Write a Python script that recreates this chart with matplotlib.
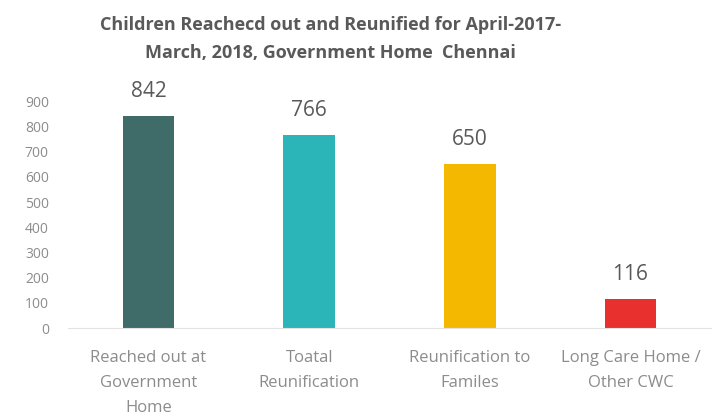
import matplotlib
matplotlib.use("Agg")
import matplotlib.pyplot as plt

# data
categories = ["Reached out at\nGovernment\nHome", "Toatal\nReunification",
              "Reunification to\nFamiles", "Long Care Home /\nOther CWC"]
values = [842, 766, 650, 116]
bar_colors = ["#3f6b68", "#2bb5b8", "#f5b800", "#e8302e"]
y_ticks = [0, 100, 200, 300, 400, 500, 600, 700, 800, 900]

plt.rcParams["font.family"] = ["Open Sans", "DejaVu Sans"]

fig = plt.figure(figsize=(7.18, 4.18), dpi=100)
# plot area: x 68..711 px, y 101..328 px
ax = fig.add_axes([0.095, 0.215, 0.895, 0.543])

x = range(len(categories))
bars = ax.bar(x, values, width=0.32, color=bar_colors)

for b, v in zip(bars, values):
    ax.annotate(str(v), (b.get_x() + b.get_width() / 2, v), xytext=(0, 10),
                textcoords="offset points", ha="center", va="bottom",
                fontsize=15, color="#595959", annotation_clip=False)

ax.set_xlim(-0.5, 3.5)
ax.set_ylim(0, 900)
ax.set_yticks(y_ticks)
ax.set_xticks(list(x))
ax.set_xticklabels(categories, fontsize=12, color="#8c8c8c", linespacing=1.72)
ax.tick_params(axis="y", labelsize=10, labelcolor="#8c8c8c", length=0, pad=14)
ax.tick_params(axis="x", length=0, pad=16)

for s in ["top", "right", "left"]:
    ax.spines[s].set_visible(False)
ax.spines["bottom"].set_color("#e3e3e3")

fig.suptitle("Children Reachecd out and Reunified for April-2017-\nMarch, 2018, Government Home  Chennai",
             x=0.46, y=0.962, fontsize=13, fontweight="bold", color="#595959", linespacing=1.75)

fig.savefig("out.png", dpi=100, facecolor="white")
